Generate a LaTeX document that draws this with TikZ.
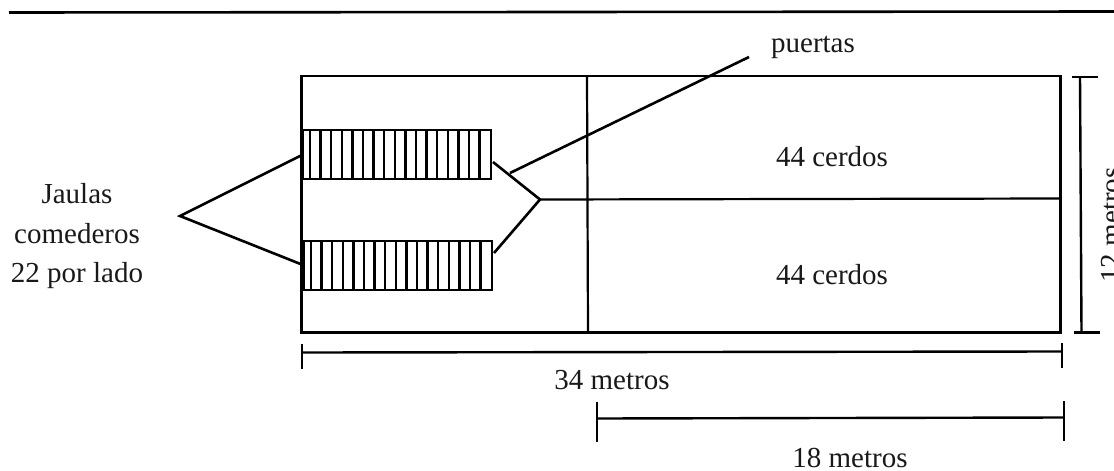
\documentclass[tikz,border=0pt]{standalone}
\usepackage{fontspec}
\setmainfont{Liberation Serif}
\begin{document}
\begin{tikzpicture}[x=1pt,y=-1pt,
  ln/.style={draw=black,line width=2.6pt},
  wall/.style={draw=black,line width=2.2pt},
  bar/.style={draw=black,line width=2.5pt},
  dim/.style={draw=black,line width=2.4pt},
  txt/.style={inner sep=0pt,anchor=base,font=\fontsize{29}{39}\selectfont,text=black!90}]
\useasboundingbox (0,0) rectangle (1114,471);
\path[fill=white] (0,0) rectangle (1114,471);
% header rule
\coordinate (hl) at (9,12.5); \coordinate (hr) at (1114,11.5);
\draw[line width=2.6pt,draw=black] (hl) -- (hr);
% hall
\node[wall,inner sep=0pt,minimum width=759pt,minimum height=256.5pt] (hall) at (681,204.3) {};
\coordinate (divT) at (587,76); \coordinate (divB) at (588,332);
\draw[wall] (divT) -- (divB);
% feeders
\foreach \n/\y/\xa in {up/129/302,lo/240/303}{
  \node[wall,inner sep=0pt,anchor=north west,minimum width=187.5pt,minimum height=48.5pt] (\n) at (\xa,\y) {};
  \foreach \i in {0,...,16}{
    \draw[bar] ([xshift=8+\i*10.6]\n.north west) -- ([xshift=8+\i*10.6]\n.south west);
  }
}
% centre line
\coordinate (apex) at (540,199.5); \coordinate (mR) at (1061,198.5);
\coordinate (dU) at (493,162); \coordinate (dL) at (494,253);
\draw[ln] (dU) -- (apex) -- (dL);
\draw[wall] (apex) -- (mR);
% puertas leader
\coordinate (pS) at (510,173); \coordinate (pE) at (749,57);
\draw[ln] (pS) -- (pE);
% jaulas leader
\coordinate (jA) at (180,216); \coordinate (jU) at (302,155); \coordinate (jL) at (303,265);
\draw[ln] (jU) -- (jA) -- (jL);
% 34 m
\coordinate (a1) at (302,352.5); \coordinate (a2) at (1062,351.5);
\draw[dim] (a1) -- (a2);
\draw[dim] (302,344) -- (302,369);
\draw[dim] (1062,343) -- (1062,368);
% 18 m
\coordinate (b1) at (597,418.5); \coordinate (b2) at (1064,417.5);
\draw[dim] (b1) -- (b2);
\draw[dim] (597,402) -- (597,442);
\draw[dim] (1064,401) -- (1064,441);
% 12 m
\coordinate (c1) at (1080,77); \coordinate (c2) at (1081.5,332.5);
\draw[dim] (c1) -- (c2);
\draw[dim] (1072,77) -- (1098,77);
\draw[dim] (1074,332.5) -- (1100,332.5);
% texts
\node[txt] (tj1) at (77,203) {Jaulas};
\node[txt] (tj2) at (77,243) {comederos};
\node[txt] (tj3) at (77,282) {22 por lado};
\node[txt] (tp) at (813,52) {puertas};
\node[txt] (tc1) at (832,166) {44 cerdos};
\node[txt] (tc2) at (832,284) {44 cerdos};
\node[txt] (t34) at (612,389) {34 metros};
\node[txt] (t18) at (850,467) {18 metros};
\node[txt,rotate=90] (t12) at (1120,225) {12 metros};
\end{tikzpicture}
\end{document}
